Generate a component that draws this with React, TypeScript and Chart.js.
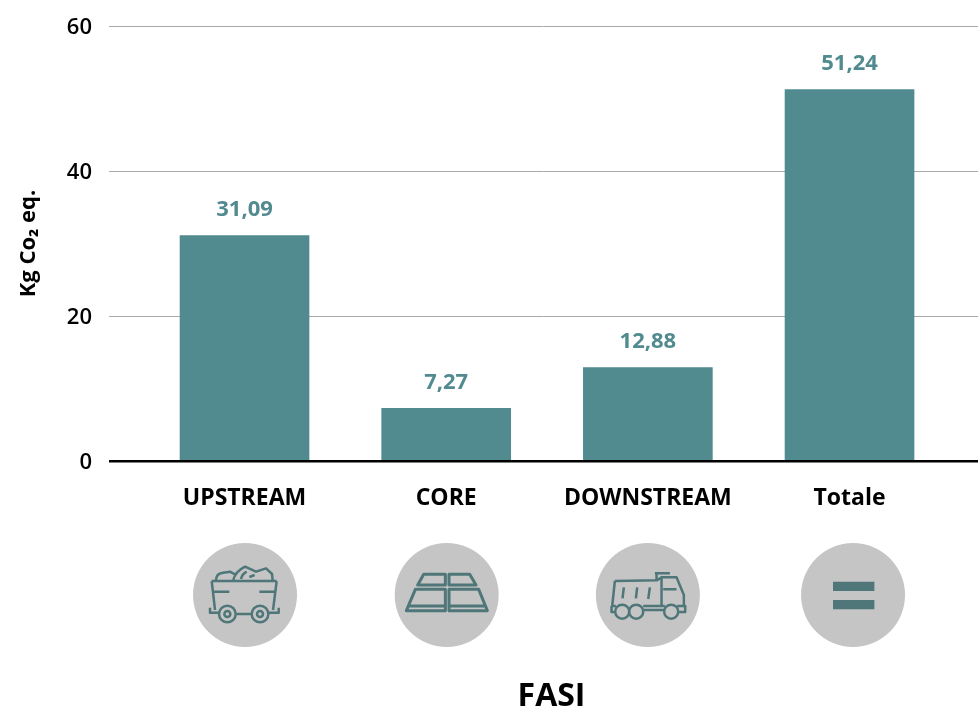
import React, { useEffect, useRef } from "react";
import { Chart, registerables } from "chart.js";

Chart.register(...registerables);

const categories = ["UPSTREAM", "CORE", "DOWNSTREAM", "Totale"];
const values = [31.09, 7.27, 12.88, 51.24];
const valueLabels = ["31,09", "7,27", "12,88", "51,24"];
const yTicks = [0, 20, 40, 60];
const yTitle = "Kg Co₂ eq.";
const xTitle = "FASI";

const TEAL = "#518b8f";
const ICON = "#4f7679";
const DISC = "#c5c5c5";
const FONT = '"Open Sans", sans-serif';

type IconDef = { cx: number; cy: number; width: number; stroke: string; fill?: string };

const icons: IconDef[] = [
  {
    cx: 195, cy: 195, width: 7.5,
    stroke:
      "M95 153 H290 M95 153 L105 240 M290 153 L279 240 M100 185 H148 M238 185 H288 " +
      "M108 152 Q108 132 125 129 L150 125 L168 135 M160 150 Q165 125 195 110 L228 125 L258 115 L276 132 L278 152 " +
      "M183 147 Q186 132 200 125 M208 141 L224 135 " +
      "M167 252 H215 M90 233 V248 H115 M296 233 V248 H265 " +
      "M167 252 A25 25 0 1 1 117 252 A25 25 0 1 1 167 252 M151 252 A9 9 0 1 1 133 252 A9 9 0 1 1 151 252 " +
      "M265 252 A25 25 0 1 1 215 252 A25 25 0 1 1 265 252 M249 252 A9 9 0 1 1 231 252 A9 9 0 1 1 249 252",
  },
  {
    cx: 799, cy: 195, width: 9,
    stroke:
      "M730 133 H795 V165 H712 Z M806 133 H868 L887 165 H806 Z " +
      "M705 178 H795 V242 H678 Z M686 228 H795 M806 178 H895 L921 242 H806 Z M806 228 H914",
  },
  {
    cx: 204, cy: 195, width: 7.5,
    stroke:
      "M105 153 L232 151 L245 142 H290 L312 195 V228 M225 130 H270 M230 130 V150 " +
      "M105 153 L97 228 M245 142 V228 M250 178 H290 M132 172 L128 205 M172 172 L168 205 M210 172 L205 207 " +
      "M95 228 H108 M190 228 H255 M292 228 H316 V246 H295 M95 228 V246 H106 M190 240 H255 " +
      "M148 245 A21 21 0 1 1 106 245 A21 21 0 1 1 148 245 M190 245 A21 21 0 1 1 148 245 A21 21 0 1 1 190 245 " +
      "M295 245 A21 21 0 1 1 253 245 A21 21 0 1 1 295 245",
  },
  {
    cx: 818, cy: 195, width: 0,
    stroke: "",
    fill: "M758 155 H882 V183 H758 Z M758 210 H882 V238 H758 Z",
  },
];

const discOffsets = [0.5, 0.5, 0, 3.5];

const decorations = {
  id: "decorations",
  afterDatasetsDraw(chart: any) {
    const { ctx, scales } = chart;
    const meta = chart.getDatasetMeta(0);
    ctx.save();
    ctx.fillStyle = TEAL;
    ctx.font = `700 22px ${FONT}`;
    ctx.textAlign = "center";
    ctx.textBaseline = "middle";
    meta.data.forEach((bar: any, i: number) => {
      ctx.fillText(valueLabels[i], bar.x, bar.y - 26);
    });

    icons.forEach((icon, i) => {
      const x = scales.x.getPixelForValue(i) + discOffsets[i];
      const y = 595;
      ctx.fillStyle = DISC;
      ctx.beginPath();
      ctx.arc(x, y, 52, 0, Math.PI * 2);
      ctx.fill();
      ctx.save();
      ctx.translate(x, y);
      ctx.scale(1 / 3, 1 / 3);
      ctx.translate(-icon.cx, -icon.cy);
      ctx.strokeStyle = ICON;
      ctx.lineWidth = icon.width;
      ctx.lineJoin = "round";
      if (icon.stroke) ctx.stroke(new Path2D(icon.stroke));
      if (icon.fill) {
        ctx.fillStyle = ICON;
        ctx.fill(new Path2D(icon.fill));
      }
      ctx.restore();
    });

    ctx.fillStyle = "#000";
    ctx.font = `700 32px ${FONT}`;
    ctx.fillText(xTitle, 551.5, 696.5);
    ctx.restore();
  },
};

export default function App() {
  const ref = useRef<HTMLCanvasElement>(null);
  useEffect(() => {
    const chart = new Chart(ref.current!, {
      type: "bar",
      plugins: [decorations],
      data: {
        datasets: [
          {
            data: values.map((y, x) => ({ x, y })),
            backgroundColor: TEAL,
            barThickness: 129,
          },
        ],
      },
      options: {
        animation: false,
        responsive: false,
        layout: { padding: { top: 26, right: 0, left: 0, bottom: 0 } },
        plugins: { legend: { display: false }, tooltip: { enabled: false } },
        scales: {
          x: {
            type: "linear",
            offset: false,
            min: -0.672,
            max: 3.637,
            grid: { display: false, drawTicks: false },
            border: { display: false },
            afterBuildTicks: (s: any) => {
              s.ticks = categories.map((_, i) => ({ value: i }));
            },
            afterFit: (s: any) => {
              s.height = 246;
              s.paddingLeft = 0;
              s.paddingRight = 0;
            },
            ticks: {
              autoSkip: false,
              maxRotation: 0,
              padding: 24,
              color: "#000",
              font: { family: FONT, size: 23, weight: "700" },
              callback: (v: any) => categories[v as number],
            },
          },
          y: {
            min: 0,
            max: 60,
            afterBuildTicks: (s: any) => {
              s.ticks = yTicks.map((value) => ({ value }));
            },
            afterFit: (s: any) => {
              s.width = 109;
              s.paddingTop = 0;
              s.paddingBottom = 0;
            },
            grid: {
              drawTicks: false,
              color: (c: any) => (c.tick.value === 0 ? "#000" : "#a9a9a9"),
              lineWidth: (c: any) => (c.tick.value === 0 ? 2.5 : 1),
            },
            border: { display: false },
            ticks: {
              padding: 17,
              labelOffset: 1.5,
              color: "#000",
              font: { family: FONT, size: 22, weight: "600" },
            },
            title: {
              display: true,
              text: yTitle,
              color: "#000",
              padding: { top: 16, bottom: 0 },
              font: { family: FONT, size: 22, weight: "700" },
            },
          },
        },
      },
    } as any);
    return () => chart.destroy();
  }, []);
  return (
    <div style={{ position: "absolute", left: 0, top: 0, width: 978, height: 707, overflow: "hidden", background: "#fff" }}>
      <canvas ref={ref} width={978} height={707} style={{ display: "block" }} />
    </div>
  );
}
